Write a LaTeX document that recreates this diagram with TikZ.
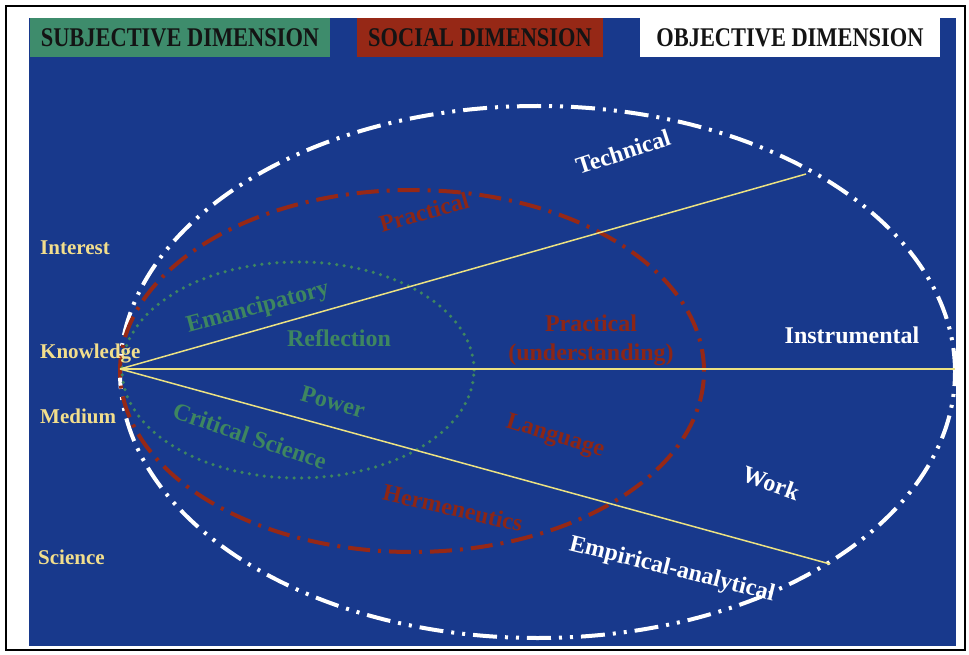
\documentclass[tikz,border=0pt]{standalone}
\usepackage{fontspec}
\setmainfont{Liberation Serif}
\definecolor{bgblue}{RGB}{24,57,140}
\definecolor{boxgreen}{RGB}{62,140,108}
\definecolor{boxred}{RGB}{150,40,22}
\definecolor{txtgreen}{RGB}{62,134,96}
\definecolor{txtred}{RGB}{140,38,22}
\definecolor{txtyellow}{RGB}{242,222,140}
\definecolor{lnyellow}{RGB}{236,226,130}
\definecolor{inkdark}{RGB}{20,20,20}
\begin{document}
\begin{tikzpicture}[x=1pt,y=-1pt,
  hdrbox/.style={draw=none,minimum width=#1,minimum height=39pt,inner sep=0pt,
     font=\bfseries\fontsize{27}{28}\selectfont,text=inkdark},
  lbl/.style={font=\bfseries\fontsize{24}{26}\selectfont,inner sep=0pt},
  sidelbl/.style={font=\bfseries\fontsize{21}{24}\selectfont,text=txtyellow,anchor=west,inner sep=0pt},
  outerring/.style={draw=white,line width=4pt,dash pattern=on 24pt off 8pt on 3pt off 8pt on 3pt off 8pt},
  midring/.style={draw=boxred,line width=4pt,dash pattern=on 22pt off 8pt on 3pt off 8pt},
  innerring/.style={draw=txtgreen,line width=3.5pt,line cap=round,dash pattern=on 0pt off 7.5pt},
  ray/.style={draw=lnyellow,line width=1.5pt}
]
\useasboundingbox (0,0) rectangle (969,655);
\fill[white] (0,0) rectangle (969,655);
\draw[black,line width=1.2pt] (6,6) rectangle (965,650);
\fill[bgblue] (29,18) rectangle (956,646);

% header boxes
\node[hdrbox=300pt,fill=boxgreen] (subj) at (180,37.5) {\scalebox{0.83}[1]{SUBJECTIVE DIMENSION}};
\node[hdrbox=246pt,fill=boxred] (soc) at (480,37.5) {\scalebox{0.83}[1]{SOCIAL DIMENSION}};
\node[hdrbox=300pt,fill=white] (obj) at (790,37.5) {\scalebox{0.83}[1]{OBJECTIVE DIMENSION}};

% ellipses
\draw[outerring] (537.5,372) ellipse [x radius=417.5pt, y radius=266pt];
\draw[midring] (412,371) ellipse [x radius=292pt, y radius=181pt];
\draw[innerring] (298,370) ellipse [x radius=176pt, y radius=108pt];

% rays
\coordinate (K) at (120,369);
\coordinate (T) at (806,174);
\coordinate (I) at (955,369);
\coordinate (E) at (830,564);
\draw[ray] (K) -- (T);
\draw[ray] (K) -- (I);
\draw[ray] (K) -- (E);

% side labels
\node[sidelbl] (interest) at (40,248) {Interest};
\node[sidelbl] (knowledge) at (40,354) {Knowledge};
\node[sidelbl] (medium) at (40,416) {Medium};
\node[sidelbl] (science) at (38,557) {Science};

% objective labels
\node[lbl,text=white,rotate=18] (technical) at (623,152) {Technical};
\node[lbl,text=white] (instrumental) at (852,335) {Instrumental};
\node[lbl,text=white,rotate=-20] (work) at (771,483) {Work};
\node[lbl,text=white,rotate=-14] (emp) at (672,570) {Empirical-analytical};

% social labels
\node[lbl,text=txtred,rotate=16] (practop) at (424,212) {Practical};
\node[lbl,text=txtred,align=center,font=\bfseries\fontsize{24}{29}\selectfont] (pracu) at (591,340) {Practical\\(understanding)};
\node[lbl,text=txtred,rotate=-17] (language) at (555,437) {Language};
\node[lbl,text=txtred,rotate=-13] (herm) at (453,508) {Hermeneutics};

% subjective labels
\node[lbl,text=txtgreen,rotate=15] (eman) at (258,308) {Emancipatory};
\node[lbl,text=txtgreen] (refl) at (339,338) {Reflection};
\node[lbl,text=txtgreen,rotate=-16] (power) at (333,402) {Power};
\node[lbl,text=txtgreen,rotate=-19] (crit) at (250,436) {Critical Science};
\end{tikzpicture}
\end{document}
